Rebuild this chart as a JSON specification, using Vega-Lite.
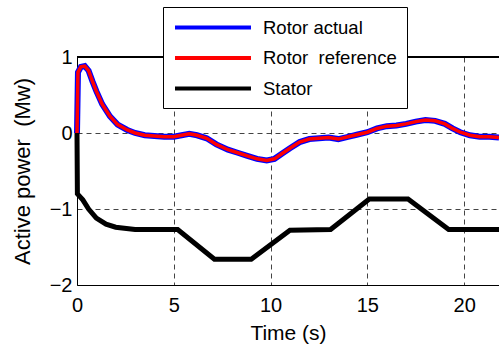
{
  "$schema": "https://vega.github.io/schema/vega-lite/v6.json",
  "width": 422,
  "height": 228,
  "autosize": {"type": "none"},
  "padding": {"left": 77, "top": 57, "right": 0, "bottom": 62},
  "background": "white",
  "config": {
    "view": {"stroke": null},
    "font": "Liberation Sans",
    "axis": {
      "labelFont": "Liberation Sans",
      "titleFont": "Liberation Sans",
      "labelColor": "black",
      "titleColor": "black",
      "titleFontWeight": "normal",
      "domainColor": "black",
      "domainWidth": 1,
      "ticks": false,
      "gridColor": "#444444",
      "gridDash": [5, 4],
      "gridWidth": 1,
      "gridOpacity": 1
    }
  },
  "datasets": {
    "power": [
      {"series": "Rotor actual", "t": 0, "p": 0},
      {"series": "Rotor actual", "t": 0.05, "p": 0.8},
      {"series": "Rotor actual", "t": 0.2, "p": 0.87},
      {"series": "Rotor actual", "t": 0.4, "p": 0.88},
      {"series": "Rotor actual", "t": 0.6, "p": 0.82},
      {"series": "Rotor actual", "t": 0.8, "p": 0.68},
      {"series": "Rotor actual", "t": 1.0, "p": 0.55},
      {"series": "Rotor actual", "t": 1.3, "p": 0.38},
      {"series": "Rotor actual", "t": 1.7, "p": 0.22},
      {"series": "Rotor actual", "t": 2.1, "p": 0.11},
      {"series": "Rotor actual", "t": 2.6, "p": 0.04},
      {"series": "Rotor actual", "t": 3.0, "p": 0.0},
      {"series": "Rotor actual", "t": 3.5, "p": -0.03},
      {"series": "Rotor actual", "t": 4.0, "p": -0.04},
      {"series": "Rotor actual", "t": 4.5, "p": -0.05},
      {"series": "Rotor actual", "t": 5.0, "p": -0.05},
      {"series": "Rotor actual", "t": 5.4, "p": -0.03},
      {"series": "Rotor actual", "t": 5.8, "p": -0.01},
      {"series": "Rotor actual", "t": 6.2, "p": -0.03},
      {"series": "Rotor actual", "t": 6.7, "p": -0.07},
      {"series": "Rotor actual", "t": 7.2, "p": -0.15},
      {"series": "Rotor actual", "t": 7.8, "p": -0.22},
      {"series": "Rotor actual", "t": 8.3, "p": -0.26},
      {"series": "Rotor actual", "t": 8.8, "p": -0.3},
      {"series": "Rotor actual", "t": 9.3, "p": -0.34},
      {"series": "Rotor actual", "t": 9.8, "p": -0.36},
      {"series": "Rotor actual", "t": 10.2, "p": -0.34},
      {"series": "Rotor actual", "t": 10.6, "p": -0.27},
      {"series": "Rotor actual", "t": 11.0, "p": -0.2},
      {"series": "Rotor actual", "t": 11.5, "p": -0.12},
      {"series": "Rotor actual", "t": 12.0, "p": -0.08},
      {"series": "Rotor actual", "t": 12.5, "p": -0.07},
      {"series": "Rotor actual", "t": 13.0, "p": -0.06},
      {"series": "Rotor actual", "t": 13.5, "p": -0.08},
      {"series": "Rotor actual", "t": 14.0, "p": -0.05},
      {"series": "Rotor actual", "t": 14.5, "p": -0.02},
      {"series": "Rotor actual", "t": 15.0, "p": 0.01},
      {"series": "Rotor actual", "t": 15.5, "p": 0.06},
      {"series": "Rotor actual", "t": 16.0, "p": 0.09},
      {"series": "Rotor actual", "t": 16.5, "p": 0.1},
      {"series": "Rotor actual", "t": 17.0, "p": 0.12},
      {"series": "Rotor actual", "t": 17.5, "p": 0.15},
      {"series": "Rotor actual", "t": 18.0, "p": 0.17},
      {"series": "Rotor actual", "t": 18.5, "p": 0.16},
      {"series": "Rotor actual", "t": 19.0, "p": 0.12},
      {"series": "Rotor actual", "t": 19.4, "p": 0.06},
      {"series": "Rotor actual", "t": 19.8, "p": 0.01},
      {"series": "Rotor actual", "t": 20.3, "p": -0.03},
      {"series": "Rotor actual", "t": 20.8, "p": -0.05},
      {"series": "Rotor actual", "t": 21.3, "p": -0.05},
      {"series": "Rotor actual", "t": 21.8, "p": -0.06},
      {"series": "Rotor\u00a0 reference", "t": 0, "p": 0},
      {"series": "Rotor\u00a0 reference", "t": 0.05, "p": 0.8},
      {"series": "Rotor\u00a0 reference", "t": 0.2, "p": 0.87},
      {"series": "Rotor\u00a0 reference", "t": 0.4, "p": 0.88},
      {"series": "Rotor\u00a0 reference", "t": 0.6, "p": 0.82},
      {"series": "Rotor\u00a0 reference", "t": 0.8, "p": 0.68},
      {"series": "Rotor\u00a0 reference", "t": 1.0, "p": 0.55},
      {"series": "Rotor\u00a0 reference", "t": 1.3, "p": 0.38},
      {"series": "Rotor\u00a0 reference", "t": 1.7, "p": 0.22},
      {"series": "Rotor\u00a0 reference", "t": 2.1, "p": 0.11},
      {"series": "Rotor\u00a0 reference", "t": 2.6, "p": 0.04},
      {"series": "Rotor\u00a0 reference", "t": 3.0, "p": 0.0},
      {"series": "Rotor\u00a0 reference", "t": 3.5, "p": -0.03},
      {"series": "Rotor\u00a0 reference", "t": 4.0, "p": -0.04},
      {"series": "Rotor\u00a0 reference", "t": 4.5, "p": -0.05},
      {"series": "Rotor\u00a0 reference", "t": 5.0, "p": -0.05},
      {"series": "Rotor\u00a0 reference", "t": 5.4, "p": -0.03},
      {"series": "Rotor\u00a0 reference", "t": 5.8, "p": -0.01},
      {"series": "Rotor\u00a0 reference", "t": 6.2, "p": -0.03},
      {"series": "Rotor\u00a0 reference", "t": 6.7, "p": -0.07},
      {"series": "Rotor\u00a0 reference", "t": 7.2, "p": -0.15},
      {"series": "Rotor\u00a0 reference", "t": 7.8, "p": -0.22},
      {"series": "Rotor\u00a0 reference", "t": 8.3, "p": -0.26},
      {"series": "Rotor\u00a0 reference", "t": 8.8, "p": -0.3},
      {"series": "Rotor\u00a0 reference", "t": 9.3, "p": -0.34},
      {"series": "Rotor\u00a0 reference", "t": 9.8, "p": -0.36},
      {"series": "Rotor\u00a0 reference", "t": 10.2, "p": -0.34},
      {"series": "Rotor\u00a0 reference", "t": 10.6, "p": -0.27},
      {"series": "Rotor\u00a0 reference", "t": 11.0, "p": -0.2},
      {"series": "Rotor\u00a0 reference", "t": 11.5, "p": -0.12},
      {"series": "Rotor\u00a0 reference", "t": 12.0, "p": -0.08},
      {"series": "Rotor\u00a0 reference", "t": 12.5, "p": -0.07},
      {"series": "Rotor\u00a0 reference", "t": 13.0, "p": -0.06},
      {"series": "Rotor\u00a0 reference", "t": 13.5, "p": -0.08},
      {"series": "Rotor\u00a0 reference", "t": 14.0, "p": -0.05},
      {"series": "Rotor\u00a0 reference", "t": 14.5, "p": -0.02},
      {"series": "Rotor\u00a0 reference", "t": 15.0, "p": 0.01},
      {"series": "Rotor\u00a0 reference", "t": 15.5, "p": 0.06},
      {"series": "Rotor\u00a0 reference", "t": 16.0, "p": 0.09},
      {"series": "Rotor\u00a0 reference", "t": 16.5, "p": 0.1},
      {"series": "Rotor\u00a0 reference", "t": 17.0, "p": 0.12},
      {"series": "Rotor\u00a0 reference", "t": 17.5, "p": 0.15},
      {"series": "Rotor\u00a0 reference", "t": 18.0, "p": 0.17},
      {"series": "Rotor\u00a0 reference", "t": 18.5, "p": 0.16},
      {"series": "Rotor\u00a0 reference", "t": 19.0, "p": 0.12},
      {"series": "Rotor\u00a0 reference", "t": 19.4, "p": 0.06},
      {"series": "Rotor\u00a0 reference", "t": 19.8, "p": 0.01},
      {"series": "Rotor\u00a0 reference", "t": 20.3, "p": -0.03},
      {"series": "Rotor\u00a0 reference", "t": 20.8, "p": -0.05},
      {"series": "Rotor\u00a0 reference", "t": 21.3, "p": -0.05},
      {"series": "Rotor\u00a0 reference", "t": 21.8, "p": -0.06},
      {"series": "Stator", "t": 0, "p": 0},
      {"series": "Stator", "t": 0.02, "p": -0.8},
      {"series": "Stator", "t": 0.3, "p": -0.88},
      {"series": "Stator", "t": 0.6, "p": -1.0},
      {"series": "Stator", "t": 1.0, "p": -1.12},
      {"series": "Stator", "t": 1.5, "p": -1.2},
      {"series": "Stator", "t": 2.0, "p": -1.24},
      {"series": "Stator", "t": 3.0, "p": -1.27},
      {"series": "Stator", "t": 5.2, "p": -1.27},
      {"series": "Stator", "t": 7.1, "p": -1.66},
      {"series": "Stator", "t": 9.0, "p": -1.66},
      {"series": "Stator", "t": 11.0, "p": -1.28},
      {"series": "Stator", "t": 13.1, "p": -1.27},
      {"series": "Stator", "t": 15.1, "p": -0.87},
      {"series": "Stator", "t": 17.1, "p": -0.87},
      {"series": "Stator", "t": 19.2, "p": -1.27},
      {"series": "Stator", "t": 21.8, "p": -1.27}
    ]
  },
  "data": {"name": "power"},
  "encoding": {
    "x": {
      "field": "t", "type": "quantitative",
      "scale": {"domain": [0, 21.8], "nice": false, "zero": false},
      "axis": {"title": "Time (s)", "values": [0, 5, 10, 15, 20], "labelFontSize": 20, "titleFontSize": 21, "labelPadding": 10, "titlePadding": 7, "labelFlush": false}
    },
    "y": {
      "field": "p", "type": "quantitative",
      "scale": {"domain": [-2, 1], "nice": false},
      "axis": {"title": "Active power\u00a0 (Mw)", "values": [-2, -1, 0, 1], "labelFontSize": 20, "titleFontSize": 22, "labelPadding": 5, "titlePadding": 15, "labelFlush": false}
    },
    "color": {
      "field": "series", "type": "nominal",
      "scale": {"domain": ["Rotor actual", "Rotor\u00a0 reference", "Stator"], "range": ["#0000ff", "#ff0000", "#000000"]},
      "legend": {
        "title": null, "orient": "none", "legendX": 86, "legendY": -50,
        "symbolType": "M-1,0H7.94", "symbolSize": 289, "symbolStrokeWidth": 4,
        "labelFontSize": 18.5, "labelFont": "Liberation Sans", "labelColor": "black", "labelOffset": 69,
        "labelExpr": "datum.label + '\u00a0\u00a0\u00a0'",
        "rowPadding": 10.5, "padding": 10, "strokeColor": "black", "fillColor": "white", "labelLimit": 300
      }
    }
  },
  "layer": [
    {"transform": [{"filter": "datum.series == 'Rotor actual'"}], "mark": {"type": "line", "strokeWidth": 6}},
    {"transform": [{"filter": "datum.series == 'Rotor\u00a0 reference'"}], "mark": {"type": "line", "strokeWidth": 3.5}},
    {"transform": [{"filter": "datum.series == 'Stator'"}], "mark": {"type": "line", "strokeWidth": 5}},
    {"mark": {"type": "rule", "color": "black", "strokeWidth": 1}, "encoding": {"y": {"datum": 1}, "x": null, "color": null}}
  ]
}
